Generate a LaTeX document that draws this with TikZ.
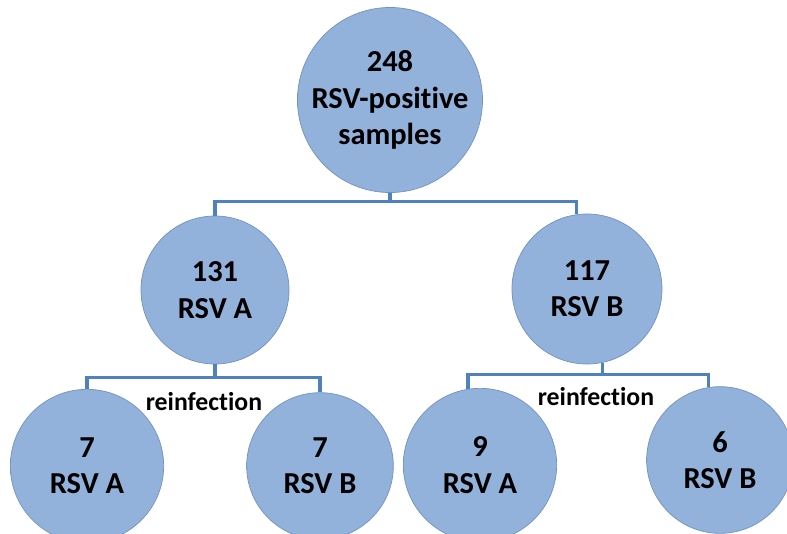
\documentclass[tikz,border=0pt]{standalone}
\usepackage{fontspec}
\setmainfont{Carlito}[Ligatures={NoCommon}]
\usepackage{tikz}

\definecolor{bubblemid}{RGB}{146,178,219}
\definecolor{bubbleedge}{RGB}{114,146,192}
\definecolor{linkblue}{RGB}{79,129,189}
\pgfdeclareradialshading{bubbleshade}{\pgfpoint{0bp}{0bp}}{color(0bp)=(bubblemid); color(38bp)=(bubblemid); color(47bp)=(bubbleedge); color(50bp)=(bubbleedge)}

\begin{document}
\begin{tikzpicture}[x=0.3mm, y=-0.3mm,
    bubble/.style={circle, shading=bubbleshade, draw=bubbleedge, line width=0.6pt, align=center, inner sep=0pt,
      font=\fontsize{26}{31}\selectfont\bfseries},
    link/.style={draw=linkblue, line width=2.7pt},
    tag/.style={font=\fontsize{22}{26}\selectfont\bfseries}]
  \clip (0,0) rectangle (787,534);
  \node[bubble, minimum size=5.52cm] (all) at (390,100) {248\\RSV-positive\\samples};
  \node[bubble, minimum size=4.44cm] (a) at (215,290) {131\\RSV A};
  \node[bubble, minimum size=4.5cm] (b) at (587,289) {117\\RSV B};
  \node[bubble, minimum size=4.6cm] (aa) at (87,466) {7\\RSV A};
  \node[bubble, minimum size=4.4cm] (ab) at (320,466) {7\\RSV B};
  \node[bubble, minimum size=4.6cm] (ba) at (480,465) {9\\RSV A};
  \node[bubble, minimum size=4.4cm] (bb) at (720,460) {6\\RSV B};
  \draw[link] (all.south) -- ++(0,9) -| (a.north);
  \draw[link] (all.south) -- ++(0,9) -| (b.98);
  \draw[link] (a.south) -- ++(0,13) -| (aa.north);
  \draw[link] (a.south) -- ++(0,13) -| (ab.north);
  \draw[link] (b.-78) -- ++(0,12) -| (ba.99);
  \draw[link] (b.-78) -- ++(0,12) -| (bb.99);
  \node[tag] (ra) at (204,402) {reinfection};
  \node[tag] (rb) at (596,397) {reinfection};
\end{tikzpicture}
\end{document}
